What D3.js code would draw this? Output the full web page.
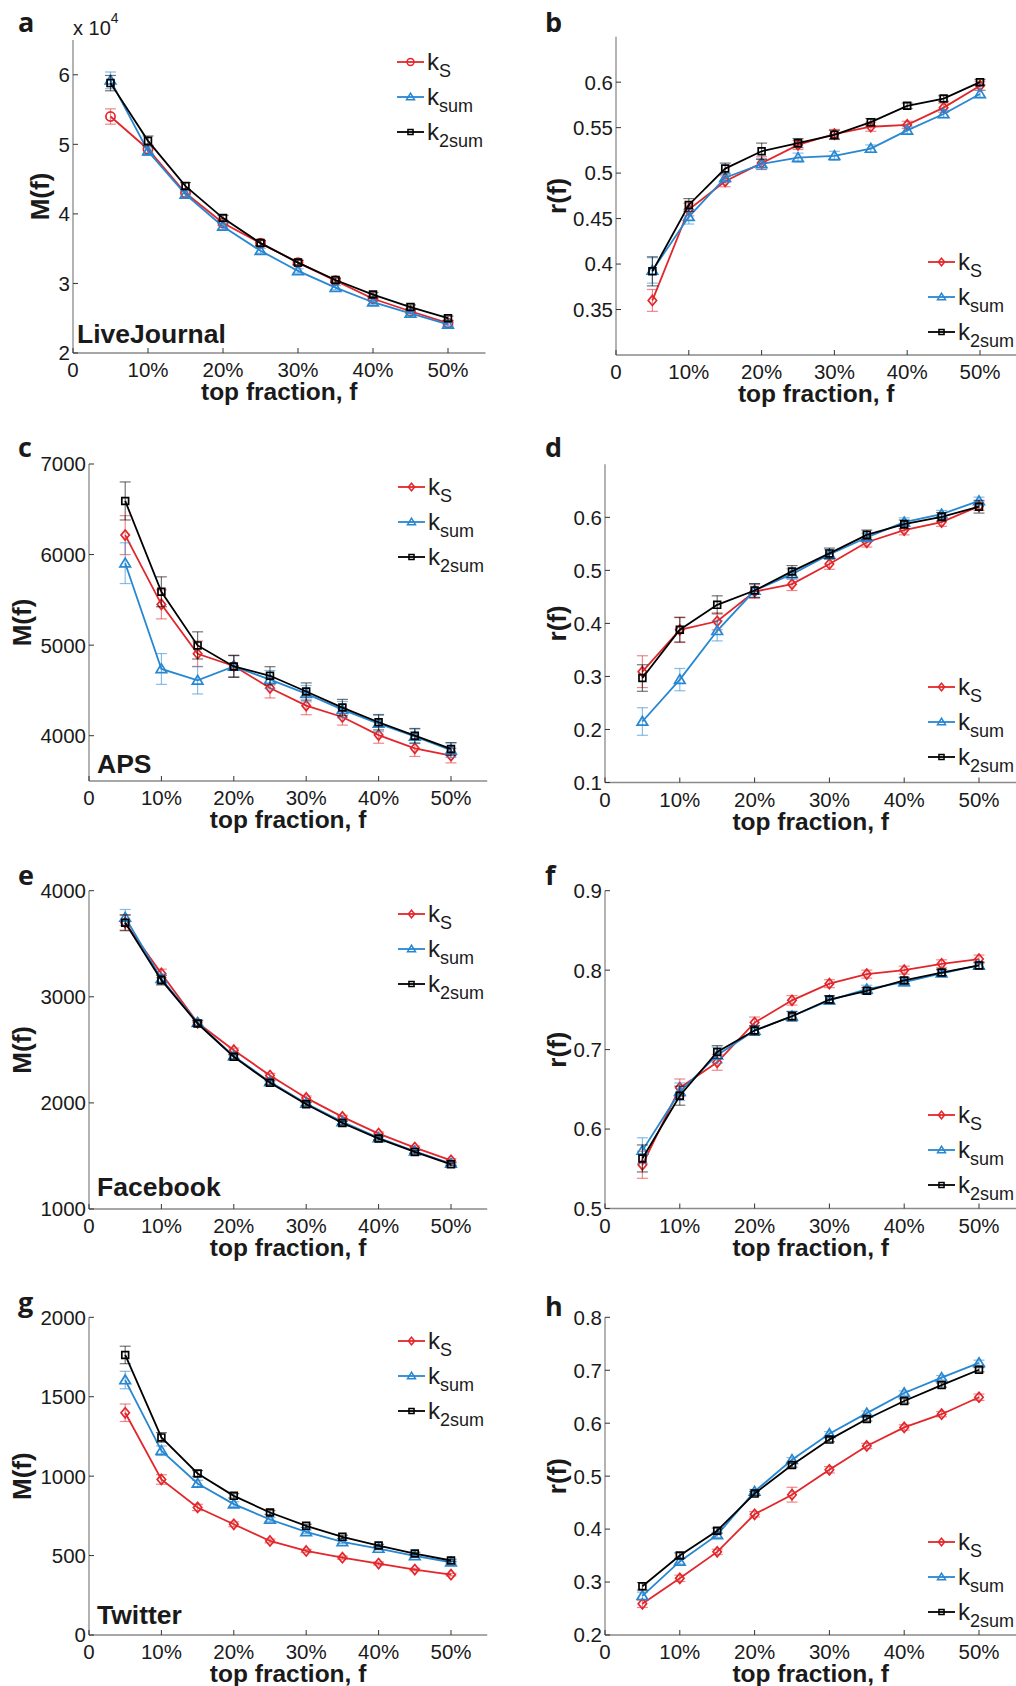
<!DOCTYPE html>
<html>
<head>
<meta charset="utf-8">
<script src="https://cdn.jsdelivr.net/npm/d3@7"></script>
<style>
  body { margin: 0; background: #fff; }
  svg { display: block; }
  text { font-family: "Liberation Sans", Arial, sans-serif; fill: #1a1a1a; }
</style>
</head>
<body>
<div id="chart"></div>
<script>
// top fractions on the x axis
const fractions = [0.05, 0.10, 0.15, 0.20, 0.25, 0.30, 0.35, 0.40, 0.45, 0.50];
const xTicks = [0, 0.1, 0.2, 0.3, 0.4, 0.5];
const xTickLabels = ["0", "10%", "20%", "30%", "40%", "50%"];
const seriesSubs = ["S", "sum", "2sum"];
const seriesColors = ["#e3262b", "#2787d1", "#000000"];

// a: LiveJournal, M(f) in units of 10^4
const ljM_kS = [5.40, 4.93, 4.30, 3.87, 3.58, 3.30, 3.04, 2.78, 2.60, 2.43];
const ljM_kSum = [5.92, 4.90, 4.28, 3.82, 3.47, 3.18, 2.94, 2.73, 2.57, 2.41];
const ljM_k2Sum = [5.88, 5.05, 4.40, 3.94, 3.58, 3.30, 3.05, 2.84, 2.66, 2.50];
const ljM_kS_err = [0.11, 0.06, 0.05, 0.04, 0.04, 0.035, 0.03, 0.03, 0.03, 0.03];
const ljM_kSum_err = [0.12, 0.06, 0.05, 0.04, 0.035, 0.03, 0.03, 0.03, 0.03, 0.03];
const ljM_k2Sum_err = [0.11, 0.07, 0.05, 0.04, 0.035, 0.03, 0.03, 0.03, 0.03, 0.03];
const ljM_yTicks = [2, 3, 4, 5, 6];

// b: LiveJournal, r(f)
const ljR_kS = [0.360, 0.460, 0.491, 0.511, 0.531, 0.543, 0.551, 0.553, 0.572, 0.596];
const ljR_kSum = [0.393, 0.452, 0.495, 0.510, 0.517, 0.519, 0.527, 0.547, 0.565, 0.587];
const ljR_k2Sum = [0.392, 0.465, 0.505, 0.524, 0.533, 0.542, 0.556, 0.574, 0.582, 0.600];
const ljR_kS_err = [0.012, 0.007, 0.006, 0.007, 0.005, 0.005, 0.005, 0.004, 0.005, 0.005];
const ljR_kSum_err = [0.014, 0.008, 0.005, 0.006, 0.005, 0.005, 0.004, 0.004, 0.004, 0.004];
const ljR_k2Sum_err = [0.016, 0.007, 0.006, 0.009, 0.005, 0.005, 0.004, 0.003, 0.003, 0.003];
const ljR_yTicks = [0.35, 0.4, 0.45, 0.5, 0.55, 0.6];

// c: APS, M(f)
const apsM_kS = [6215, 5450, 4905, 4770, 4527, 4332, 4207, 4007, 3861, 3780];
const apsM_kSum = [5905, 4737, 4611, 4765, 4620, 4464, 4288, 4134, 3993, 3840];
const apsM_k2Sum = [6592, 5589, 4997, 4765, 4662, 4488, 4311, 4149, 4000, 3854];
const apsM_kS_err = [215, 160, 140, 120, 110, 100, 90, 90, 90, 80];
const apsM_kSum_err = [225, 170, 150, 120, 100, 90, 90, 90, 80, 80];
const apsM_k2Sum_err = [210, 165, 150, 120, 100, 95, 90, 85, 80, 70];
const apsM_yTicks = [4000, 5000, 6000, 7000];

// d: APS, r(f)
const apsR_kS = [0.309, 0.388, 0.404, 0.460, 0.474, 0.512, 0.553, 0.576, 0.591, 0.621];
const apsR_kSum = [0.215, 0.294, 0.386, 0.462, 0.493, 0.530, 0.562, 0.591, 0.606, 0.631];
const apsR_k2Sum = [0.297, 0.388, 0.435, 0.462, 0.498, 0.532, 0.567, 0.587, 0.601, 0.620];
const apsR_kS_err = [0.030, 0.024, 0.016, 0.013, 0.012, 0.010, 0.009, 0.009, 0.008, 0.008];
const apsR_kSum_err = [0.026, 0.021, 0.019, 0.013, 0.010, 0.009, 0.008, 0.008, 0.007, 0.007];
const apsR_k2Sum_err = [0.025, 0.023, 0.017, 0.013, 0.011, 0.010, 0.009, 0.008, 0.008, 0.012];
const apsR_yTicks = [0.1, 0.2, 0.3, 0.4, 0.5, 0.6];

// e: Facebook, M(f)
const fbM_kS = [3698, 3220, 2755, 2497, 2258, 2047, 1868, 1711, 1579, 1459];
const fbM_kSum = [3748, 3170, 2755, 2440, 2198, 1994, 1821, 1670, 1544, 1428];
const fbM_k2Sum = [3698, 3157, 2748, 2434, 2189, 1987, 1811, 1664, 1538, 1421];
const fbM_kS_err = [70, 40, 25, 20, 20, 18, 15, 15, 15, 15];
const fbM_kSum_err = [75, 45, 25, 20, 18, 15, 15, 15, 13, 13];
const fbM_k2Sum_err = [75, 45, 25, 20, 18, 15, 15, 15, 13, 13];
const fbM_yTicks = [1000, 2000, 3000, 4000];

// f: Facebook, r(f)
const fbR_kS = [0.555, 0.652, 0.684, 0.734, 0.762, 0.783, 0.795, 0.800, 0.808, 0.814];
const fbR_kSum = [0.573, 0.647, 0.693, 0.724, 0.742, 0.762, 0.776, 0.785, 0.796, 0.806];
const fbR_k2Sum = [0.563, 0.642, 0.697, 0.724, 0.742, 0.763, 0.774, 0.787, 0.797, 0.806];
const fbR_kS_err = [0.017, 0.011, 0.010, 0.007, 0.006, 0.005, 0.005, 0.005, 0.005, 0.005];
const fbR_kSum_err = [0.016, 0.011, 0.010, 0.006, 0.006, 0.005, 0.005, 0.005, 0.004, 0.004];
const fbR_k2Sum_err = [0.017, 0.012, 0.008, 0.006, 0.006, 0.005, 0.004, 0.004, 0.004, 0.004];
const fbR_yTicks = [0.5, 0.6, 0.7, 0.8, 0.9];

// g: Twitter, M(f)
const twM_kS = [1399, 979, 803, 697, 592, 529, 487, 450, 412, 380];
const twM_kSum = [1605, 1160, 954, 824, 727, 649, 586, 544, 498, 458];
const twM_k2Sum = [1763, 1244, 1017, 876, 771, 687, 618, 563, 513, 469];
const twM_kS_err = [55, 30, 20, 15, 12, 10, 10, 10, 8, 8];
const twM_kSum_err = [55, 30, 20, 15, 12, 10, 10, 8, 8, 8];
const twM_k2Sum_err = [55, 30, 18, 14, 12, 10, 10, 8, 8, 8];
const twM_yTicks = [0, 500, 1000, 1500, 2000];

// h: Twitter, r(f)
const twR_kS = [0.259, 0.307, 0.357, 0.428, 0.465, 0.512, 0.557, 0.592, 0.617, 0.649];
const twR_kSum = [0.274, 0.339, 0.389, 0.471, 0.531, 0.580, 0.619, 0.657, 0.686, 0.714];
const twR_k2Sum = [0.292, 0.350, 0.397, 0.467, 0.521, 0.569, 0.608, 0.642, 0.672, 0.701];
const twR_kS_err = [0.007, 0.006, 0.005, 0.005, 0.014, 0.006, 0.005, 0.005, 0.005, 0.006];
const twR_kSum_err = [0.007, 0.005, 0.005, 0.004, 0.004, 0.004, 0.004, 0.004, 0.004, 0.005];
const twR_k2Sum_err = [0.007, 0.005, 0.005, 0.004, 0.004, 0.004, 0.004, 0.004, 0.004, 0.004];
const twR_yTicks = [0.2, 0.3, 0.4, 0.5, 0.6, 0.7, 0.8];

// panel layout (pixel positions on the page)
const panels = [
  { letter: "a", lx: 18, ly: 32, x0: 73, x50: 448, yb: 353, yt: 40, dom: [2, 6.5],
    ticks: ljM_yTicks, ylab: "M(f)", ylabX: 40, name: "LiveJournal", nameX: 77, nameY: 343,
    vals: [ljM_kS, ljM_kSum, ljM_k2Sum], errs: [ljM_kS_err, ljM_kSum_err, ljM_k2Sum_err],
    marks: ["circle", "triangle", "square"], legX: 397, legY: 62, exp: true },
  { letter: "b", lx: 545, ly: 32, x0: 616, x50: 980, yb: 355, yt: 36.7, dom: [0.3, 0.65],
    ticks: ljR_yTicks, ylab: "r(f)", ylabX: 557,
    vals: [ljR_kS, ljR_kSum, ljR_k2Sum], errs: [ljR_kS_err, ljR_kSum_err, ljR_k2Sum_err],
    marks: ["diamond", "triangle", "square"], legX: 928, legY: 262 },
  { letter: "c", lx: 18, ly: 457, x0: 89, x50: 451, yb: 781, yt: 464, dom: [3500, 7000],
    ticks: apsM_yTicks, ylab: "M(f)", ylabX: 22, name: "APS", nameX: 97, nameY: 773,
    vals: [apsM_kS, apsM_kSum, apsM_k2Sum], errs: [apsM_kS_err, apsM_kSum_err, apsM_k2Sum_err],
    marks: ["diamond", "triangle", "square"], legX: 398, legY: 487 },
  { letter: "d", lx: 545, ly: 457, x0: 605, x50: 979, yb: 782.5, yt: 464.3, dom: [0.1, 0.7],
    ticks: apsR_yTicks, ylab: "r(f)", ylabX: 557,
    vals: [apsR_kS, apsR_kSum, apsR_k2Sum], errs: [apsR_kS_err, apsR_kSum_err, apsR_k2Sum_err],
    marks: ["diamond", "triangle", "square"], legX: 928, legY: 687 },
  { letter: "e", lx: 18, ly: 885, x0: 89, x50: 451, yb: 1209, yt: 890.7, dom: [1000, 4000],
    ticks: fbM_yTicks, ylab: "M(f)", ylabX: 22, name: "Facebook", nameX: 97, nameY: 1196,
    vals: [fbM_kS, fbM_kSum, fbM_k2Sum], errs: [fbM_kS_err, fbM_kSum_err, fbM_k2Sum_err],
    marks: ["diamond", "triangle", "square"], legX: 398, legY: 914 },
  { letter: "f", lx: 545, ly: 885, x0: 605, x50: 979, yb: 1208.5, yt: 890.7, dom: [0.5, 0.9],
    ticks: fbR_yTicks, ylab: "r(f)", ylabX: 557,
    vals: [fbR_kS, fbR_kSum, fbR_k2Sum], errs: [fbR_kS_err, fbR_kSum_err, fbR_k2Sum_err],
    marks: ["diamond", "triangle", "square"], legX: 928, legY: 1115 },
  { letter: "g", lx: 18, ly: 1312, x0: 89, x50: 451, yb: 1635, yt: 1317.3, dom: [0, 2000],
    ticks: twM_yTicks, ylab: "M(f)", ylabX: 22, name: "Twitter", nameX: 97, nameY: 1624,
    vals: [twM_kS, twM_kSum, twM_k2Sum], errs: [twM_kS_err, twM_kSum_err, twM_k2Sum_err],
    marks: ["diamond", "triangle", "square"], legX: 398, legY: 1341 },
  { letter: "h", lx: 545, ly: 1316, x0: 605, x50: 979, yb: 1635, yt: 1317.3, dom: [0.2, 0.8],
    ticks: twR_yTicks, ylab: "r(f)", ylabX: 557,
    vals: [twR_kS, twR_kSum, twR_k2Sum], errs: [twR_kS_err, twR_kSum_err, twR_k2Sum_err],
    marks: ["diamond", "triangle", "square"], legX: 928, legY: 1542 }
];

const W = 1016, H = 1686;
const svg = d3.select("#chart").append("svg").attr("width", W).attr("height", H);

// marker shapes, s = half size
function markerPath(type, s) {
  if (type === "square") return `M${-s},${-s}H${s}V${s}H${-s}Z`;
  if (type === "diamond") return `M0,${-s * 1.2}L${s},0L0,${s * 1.2}L${-s},0Z`;
  if (type === "triangle") return `M0,${-s * 1.1}L${s * 1.15},${s * 0.8}L${-s * 1.15},${s * 0.8}Z`;
  return d3.arc()({ innerRadius: 0, outerRadius: s, startAngle: 0, endAngle: 2 * Math.PI });
}
const markerSize = { square: 3.4, diamond: 4.2, triangle: 4.6, circle: 4.6 };

panels.forEach(p => {
  const g = svg.append("g");
  const x = d3.scaleLinear().domain([0, 0.5]).range([p.x0, p.x50]);
  const y = d3.scaleLinear().domain(p.dom).range([p.yb, p.yt]);
  const axisColor = "#8a8a8a";

  // axes lines
  g.append("line").attr("x1", x(0)).attr("x2", x(0.55)).attr("y1", p.yb).attr("y2", p.yb)
    .attr("stroke", axisColor).attr("stroke-width", 1.3);
  g.append("line").attr("x1", p.x0).attr("x2", p.x0).attr("y1", p.yb).attr("y2", p.yt)
    .attr("stroke", axisColor).attr("stroke-width", 1.3);

  // x ticks (inward)
  xTicks.forEach((t, i) => {
    g.append("line").attr("x1", x(t)).attr("x2", x(t)).attr("y1", p.yb).attr("y2", p.yb - 5)
      .attr("stroke", "#333").attr("stroke-width", 1);
    g.append("text").attr("x", x(t)).attr("y", p.yb + 24).attr("text-anchor", "middle")
      .attr("font-size", 20.5).text(xTickLabels[i]);
  });

  // y ticks
  p.ticks.forEach(t => {
    g.append("line").attr("x1", p.x0).attr("x2", p.x0 + 5).attr("y1", y(t)).attr("y2", y(t))
      .attr("stroke", "#333").attr("stroke-width", 1);
    g.append("text").attr("x", p.x0 - 3).attr("y", y(t)).attr("dy", "0.36em")
      .attr("text-anchor", "end").attr("font-size", 20.5).text(String(+t.toFixed(2)));
  });

  // axis titles
  g.append("text").attr("x", (x(0) + x(0.55)) / 2).attr("y", p.yb + 47)
    .attr("text-anchor", "middle").attr("font-size", 24.5).attr("font-weight", "bold")
    .text("top fraction, f");
  g.append("text").attr("transform", `translate(${p.ylabX},${(p.yb + p.yt) / 2}) rotate(-90)`)
    .attr("text-anchor", "middle").attr("dy", "0.35em").attr("font-size", 26).attr("font-weight", "bold")
    .text(p.ylab);

  // panel letter
  g.append("text").attr("x", p.lx).attr("y", p.ly).attr("font-size", 27).attr("font-weight", "bold")
    .style("font-family", "'Open Sans', sans-serif").text(p.letter);

  if (p.exp) {
    const t = g.append("text").attr("x", p.x0).attr("y", 35).attr("font-size", 20);
    t.append("tspan").text("x 10");
    t.append("tspan").attr("dy", -12).attr("font-size", 14).text("4");
  }

  if (p.name) {
    g.append("text").attr("x", p.nameX).attr("y", p.nameY).attr("font-size", 26.5)
      .attr("font-weight", "bold").text(p.name);
  }

  // series: error bars, line, markers
  p.vals.forEach((vals, si) => {
    const col = seriesColors[si];
    const errs = p.errs[si];
    const pts = fractions.map((f, i) => ({ f, v: vals[i], e: errs[i] }));

    const eb = g.append("g").attr("stroke", col).attr("stroke-opacity", 0.55).attr("stroke-width", 1.2);
    pts.forEach(d => {
      const cx = x(d.f), y1 = y(d.v - d.e), y2 = y(d.v + d.e);
      eb.append("line").attr("x1", cx).attr("x2", cx).attr("y1", y1).attr("y2", y2);
      eb.append("line").attr("x1", cx - 5.5).attr("x2", cx + 5.5).attr("y1", y1).attr("y2", y1);
      eb.append("line").attr("x1", cx - 5.5).attr("x2", cx + 5.5).attr("y1", y2).attr("y2", y2);
    });

    g.append("path").datum(pts)
      .attr("d", d3.line().x(d => x(d.f)).y(d => y(d.v)))
      .attr("fill", "none").attr("stroke", col).attr("stroke-width", 1.8);

    const mk = p.marks[si];
    g.selectAll(null).data(pts).enter().append("path")
      .attr("transform", d => `translate(${x(d.f)},${y(d.v)})`)
      .attr("d", markerPath(mk, markerSize[mk]))
      .attr("fill", "none").attr("stroke", col).attr("stroke-width", 1.7);

    // legend entry
    const ly = p.legY + si * 35;
    const lg = g.append("g");
    lg.append("line").attr("x1", p.legX).attr("x2", p.legX + 27).attr("y1", ly).attr("y2", ly)
      .attr("stroke", col).attr("stroke-width", 1.8);
    lg.append("path").attr("transform", `translate(${p.legX + 13.5},${ly})`)
      .attr("d", markerPath(mk, markerSize[mk] * 0.75))
      .attr("fill", "none").attr("stroke", col).attr("stroke-width", 1.5);
    const lt = lg.append("text").attr("x", p.legX + 30).attr("y", ly + 8).attr("font-size", 24);
    lt.append("tspan").text("k");
    lt.append("tspan").attr("dy", 7).attr("font-size", 18).text(seriesSubs[si]);
  });
});
</script>
</body>
</html>
